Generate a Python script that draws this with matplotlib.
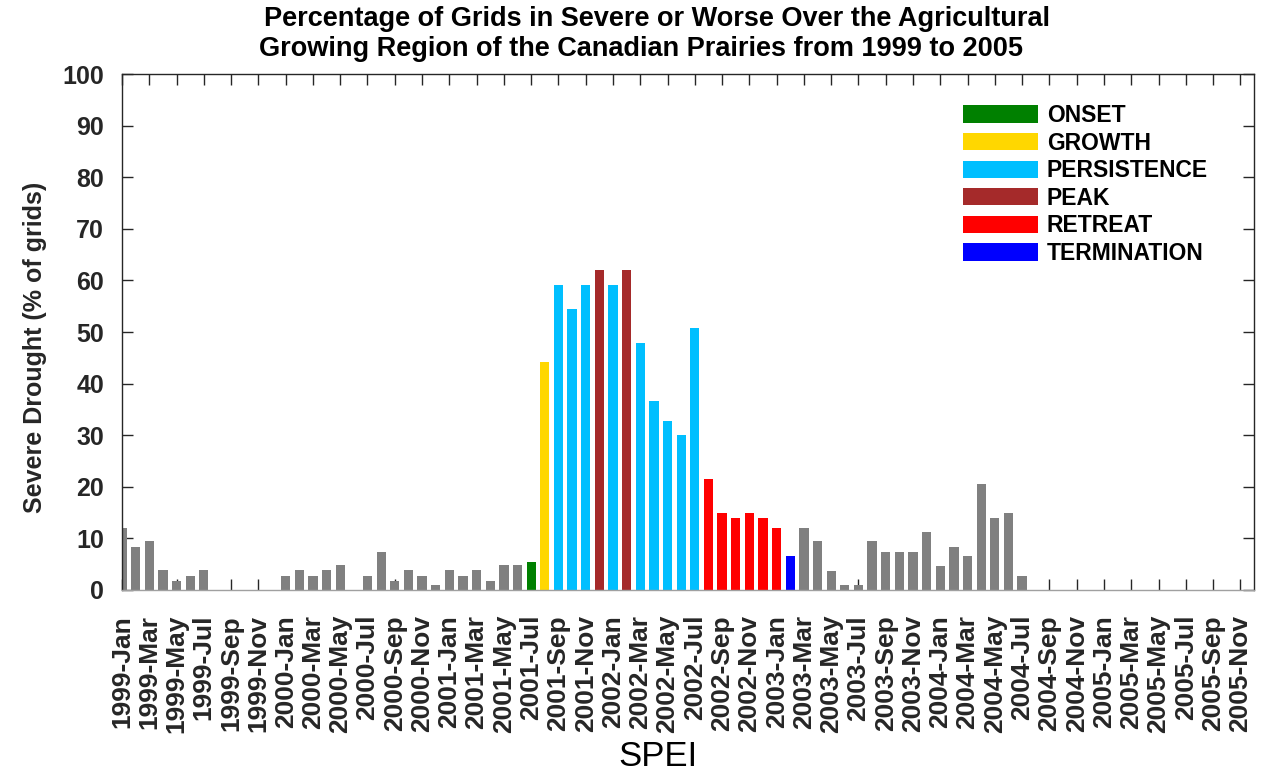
import matplotlib
matplotlib.use('Agg')
import matplotlib.pyplot as plt
from matplotlib.patches import Patch
import numpy as np

plt.rcParams['font.family'] = ['Liberation Sans', 'DejaVu Sans']

years = [1999, 2000, 2001, 2002, 2003, 2004, 2005]
months = ['Jan', 'Feb', 'Mar', 'Apr', 'May', 'Jun',
          'Jul', 'Aug', 'Sep', 'Oct', 'Nov', 'Dec']

# % of grids in severe or worse drought, one list per year
v1999 = [12.1, 8.4, 9.4, 3.8, 1.8, 2.8, 3.8, 0, 0, 0, 0, 0]
v2000 = [2.8, 3.8, 2.8, 3.8, 4.8, 0, 2.8, 7.4, 1.8, 3.8, 2.8, 0.9]
v2001 = [3.8, 2.8, 3.8, 1.8, 4.8, 4.8, 5.5, 44.2, 59.2, 54.5, 59.2, 62.0]
v2002 = [59.2, 62.0, 47.9, 36.6, 32.8, 30.0, 50.7, 21.5, 14.9, 14.0, 14.9, 14.0]
v2003 = [12.1, 6.5, 12.1, 9.4, 3.6, 0.9, 0.9, 9.4, 7.4, 7.4, 7.4, 11.2]
v2004 = [4.6, 8.4, 6.5, 20.6, 14.0, 15.0, 2.7, 0, 0, 0, 0, 0]
v2005 = [0] * 12

stages = ['ONSET', 'GROWTH', 'PERSISTENCE', 'PEAK', 'RETREAT', 'TERMINATION']
stage_colors = ['#008000', '#FFD700', '#00BFFF', '#A52A2A', '#FF0000', '#0000FF']
stage_months = {
    'ONSET': ['2001-Jul'],
    'GROWTH': ['2001-Aug'],
    'PERSISTENCE': ['2001-Sep', '2001-Oct', '2001-Nov', '2002-Jan', '2002-Mar',
                    '2002-Apr', '2002-May', '2002-Jun', '2002-Jul'],
    'PEAK': ['2001-Dec', '2002-Feb'],
    'RETREAT': ['2002-Aug', '2002-Sep', '2002-Oct', '2002-Nov', '2002-Dec', '2003-Jan'],
    'TERMINATION': ['2003-Feb'],
}

labels = [f'{y}-{m}' for y in years for m in months]
values = v1999 + v2000 + v2001 + v2002 + v2003 + v2004 + v2005

colors = []
for lab in labels:
    c = '#808080'
    for s, sc in zip(stages, stage_colors):
        if lab in stage_months[s]:
            c = sc
    colors.append(c)

x = np.arange(len(labels))

fig = plt.figure(figsize=(12.71, 7.76), dpi=100)
ax = fig.add_axes([0.096, 0.2397, 0.8906, 0.6649])

ax.bar(x, values, width=0.68, color=colors, zorder=2)

ax.set_xlim(0, len(labels) - 1)
ax.set_ylim(0, 100)
ax.set_xticks(x[::2])
ax.set_xticklabels(labels[::2], rotation=90, fontsize=19, fontweight='bold',
                   color='#262626')
ax.set_yticks(np.arange(0, 101, 10))
ax.set_yticklabels([str(v) for v in range(0, 101, 10)], fontsize=18,
                   fontweight='bold', color='#262626')
ax.tick_params(axis='both', direction='in', length=8, width=1,
               top=True, right=True, color='#262626')
ax.tick_params(axis='x', pad=18)
ax.tick_params(axis='y', pad=13)
for sp in ax.spines.values():
    sp.set_color('#262626')
    sp.set_linewidth(1)
ax.spines['bottom'].set_color('#a0a0a0')

fig.text(657 / 1271, 1 - 19 / 776, 'Percentage of Grids in Severe or Worse Over the Agricultural',
         ha='center', va='center', fontsize=19.5, fontweight='bold')
fig.text(641 / 1271, 1 - 49 / 776, 'Growing Region of the Canadian Prairies from 1999 to 2005',
         ha='center', va='center', fontsize=19.5, fontweight='bold')
fig.text(35 / 1271, 1 - 347 / 776, 'Severe Drought (% of grids)', rotation=90,
         ha='center', va='center', fontsize=18, fontweight='bold', color='#262626')
fig.text(658 / 1271, 1 - 756 / 776, 'SPEI', ha='center', va='center', fontsize=25)

handles = [Patch(facecolor=c, edgecolor='none') for c in stage_colors]
ax.legend(handles, stages, loc='upper left', bbox_to_anchor=(963 / 1271, 1 - 104 / 776),
          bbox_transform=fig.transFigure, frameon=False, borderpad=0, borderaxespad=0,
          handlelength=3.27, handleheight=0.79, handletextpad=0.39, labelspacing=0.2,
          prop={'size': 16.5, 'weight': 'bold'})

fig.savefig('out.png', dpi=100)
